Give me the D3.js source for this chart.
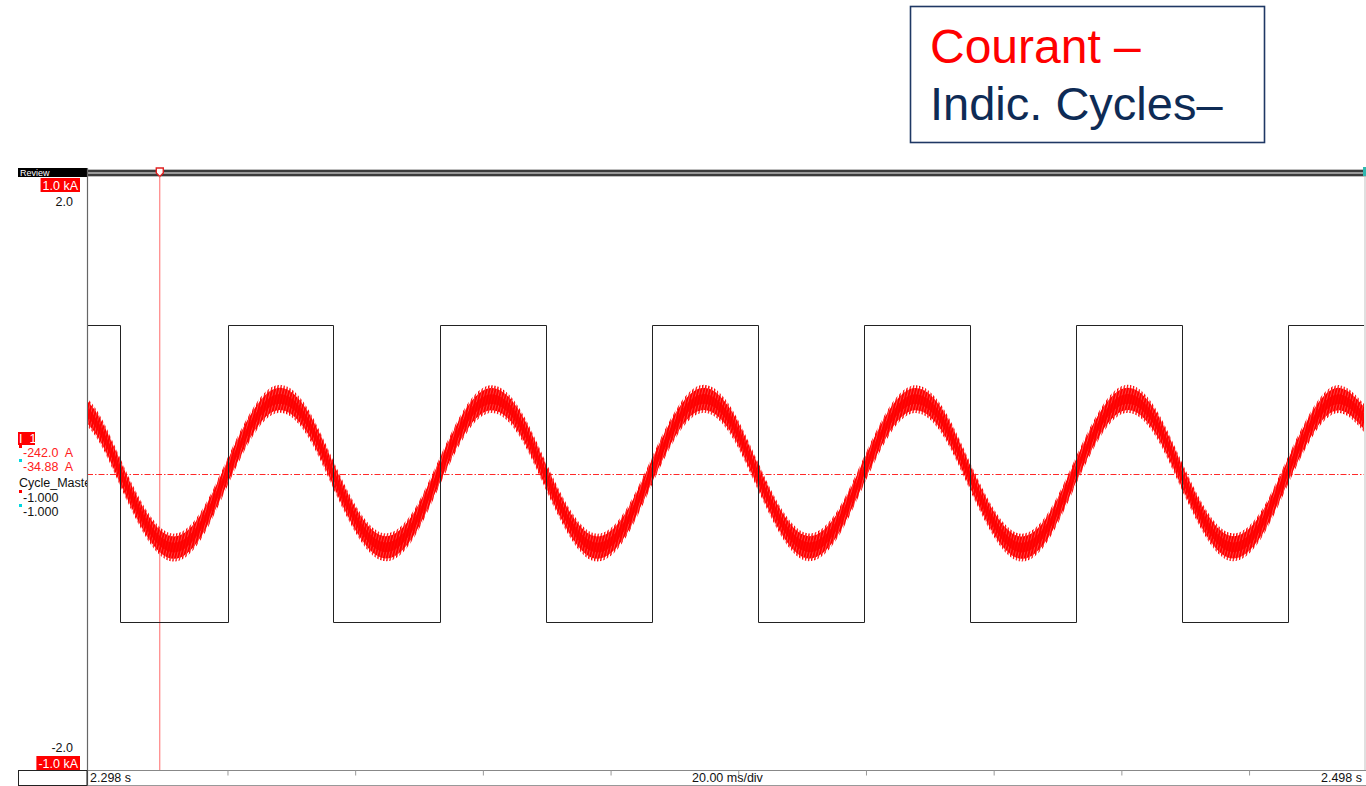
<!DOCTYPE html>
<html>
<head>
<meta charset="utf-8">
<script src="https://cdn.jsdelivr.net/npm/d3@7/dist/d3.min.js"></script>
<style>
  html, body { margin: 0; padding: 0; background: #fff; }
  svg { display: block; font-family: "Liberation Sans", Arial, sans-serif; }
  text { white-space: pre; }
</style>
</head>
<body>
<svg id="chart" width="1366" height="786"></svg>
<script>
// ---- Record window: 2.298 s .. 2.498 s, 20 ms/div ----
const startSec = 2.298;
const endSec = 2.498;
const spanMs = [0, 200];

// Current I_1 (A): fundamental sampled every ~1/8 period, time in ms from start
const curTimeMs = [-3.0, 1.2, 5.3, 9.5, 13.6, 17.8, 21.9, 26.1, 30.2, 34.4,
  38.5, 42.7, 46.8, 51.0, 55.1, 59.3, 63.4, 67.6, 71.7, 75.9,
  80.0, 84.2, 88.3, 92.5, 96.6, 100.8, 104.9, 109.1, 113.2, 117.4,
  121.5, 125.7, 129.8, 134.0, 138.1, 142.3, 146.4, 150.6, 154.7, 158.9,
  163.0, 167.2, 171.3, 175.5, 179.6, 183.8, 187.9, 192.1, 196.2, 200.4];
const curMidA = [250, 177, 0, -177, -250, -177, 0, 177, 252, 178,
  0, -176, -249, -177, 0, 178, 251, 177, 0, -177,
  -250, -176, 0, 177, 252, 178, 0, -177, -249, -176,
  0, 178, 251, 177, 0, -176, -250, -177, 0, 177,
  252, 178, 0, -177, -249, -176, 0, 177, 251, 177];
// switching ripple half-width around the fundamental (A)
const rippleA = 47;

// Cycle_Master square signal: transition times (ms) and level after each
const cycleTimeMs = [0, 5.2, 22.1, 38.5, 55.3, 71.9, 88.5, 105.1, 121.7, 138.3, 154.9, 171.5, 188.1, 200];
const cycleLevel = [1, -1, 1, -1, 1, -1, 1, -1, 1, -1, 1, -1, 1, 1];

// Axis ticks (s), scale end labels and cursor readouts
const tickSec = [2.32, 2.34, 2.36, 2.38, 2.40, 2.42, 2.44, 2.46, 2.48];
const cycleEndLabels = ["2.0", "-2.0"];
const currentEndLabels = ["1.0 kA", "-1.0 kA"];
const cursorMs = 11.4;
const readI1 = ["-242.0  A", "-34.88  A"];
const readCycle = ["-1.000", "-1.000"];

// ---- Layout ----
const plot = { left: 87, right: 1364, top: 177, bottom: 770 };
const svg = d3.select("#chart");

const x = d3.scaleLinear().domain(spanMs).range([plot.left, plot.right]);
const xSec = d3.scaleLinear().domain([startSec, endSec]).range([plot.left, plot.right]);
const yCur = d3.scaleLinear().domain([-1000, 1000]).range([plot.bottom, plot.top]);
const yCyc = d3.scaleLinear().domain([-2, 2]).range([plot.bottom, plot.top]);

const defs = svg.append("defs");
defs.append("clipPath").attr("id", "plotClip")
  .append("rect").attr("x", plot.left + 1).attr("y", plot.top)
  .attr("width", plot.right - plot.left - 1).attr("height", plot.bottom - plot.top);
defs.append("clipPath").attr("id", "labelClip")
  .append("rect").attr("x", 0).attr("y", 0).attr("width", plot.left).attr("height", 786);

// striped fills imitating the dense switching ripple
function stripes(id, w, redW, gapFill, skew) {
  const p = defs.append("pattern").attr("id", id)
    .attr("patternUnits", "userSpaceOnUse").attr("width", w).attr("height", 60)
    .attr("patternTransform", `skewX(${skew})`);
  if (gapFill) p.append("rect").attr("x", 0).attr("y", 0).attr("width", w).attr("height", 60).attr("fill", gapFill);
  p.append("rect").attr("x", 0).attr("y", 0).attr("width", redW).attr("height", 60).attr("fill", "#ff0000");
}
stripes("rippleCore", 2.9, 2.3, "#ff6e6e", -14);
stripes("rippleEdge", 3.1, 1.3, null, -8);

// ---- Frame ----
// top review bar
svg.append("rect").attr("x", plot.left).attr("y", 169).attr("width", 1366 - plot.left).attr("height", 8).attr("fill", "#bdbdbd");
svg.append("line").attr("x1", plot.left).attr("x2", 1366).attr("y1", 171).attr("y2", 171).attr("stroke", "#111").attr("stroke-width", 1.4);
svg.append("line").attr("x1", plot.left).attr("x2", 1366).attr("y1", 175).attr("y2", 175).attr("stroke", "#111").attr("stroke-width", 1.4);
svg.append("line").attr("x1", plot.left).attr("x2", 1366).attr("y1", 173).attr("y2", 173).attr("stroke", "#777").attr("stroke-width", 1);

svg.append("rect").attr("x", 18).attr("y", 168).attr("width", plot.left - 18).attr("height", 9).attr("fill", "#000");
svg.append("text").attr("x", 20).attr("y", 176).attr("font-size", 9).attr("fill", "#fff").text("Review");

// plot borders
svg.append("line").attr("x1", plot.left + 0.5).attr("x2", plot.left + 0.5).attr("y1", 168).attr("y2", 786)
  .attr("stroke", "#666").attr("stroke-width", 1.2);
svg.append("line").attr("x1", plot.right + 1).attr("x2", plot.right + 1).attr("y1", plot.top).attr("y2", plot.bottom)
  .attr("stroke", "#d6d6d6").attr("stroke-width", 1.5);

// bottom time axis row
svg.append("line").attr("x1", 18).attr("x2", 1366).attr("y1", plot.bottom + 0.5).attr("y2", plot.bottom + 0.5).attr("stroke", "#888");
svg.append("line").attr("x1", 18).attr("x2", 1366).attr("y1", 785.5).attr("y2", 785.5).attr("stroke", "#999");
svg.append("rect").attr("x", 18.5).attr("y", plot.bottom + 0.5).attr("width", plot.left - 18.5).attr("height", 15)
  .attr("fill", "none").attr("stroke", "#222");

const xAxis = d3.axisBottom(xSec).tickValues(tickSec).tickSize(5).tickFormat("");
const ax = svg.append("g").attr("transform", `translate(0,${plot.bottom + 0.5})`).call(xAxis);
ax.select(".domain").remove();
ax.selectAll(".tick line").attr("stroke", "#999");

svg.append("text").attr("x", plot.left + 3).attr("y", 782).attr("font-size", 12.5).attr("fill", "#111")
  .text(`${startSec.toFixed(3)} s`);
svg.append("text").attr("x", 692).attr("y", 782).attr("font-size", 12.5).attr("fill", "#111").text("20.00 ms/div");
svg.append("text").attr("x", 1362).attr("y", 782).attr("font-size", 12.5).attr("fill", "#111")
  .attr("text-anchor", "end").text(`${endSec.toFixed(3)} s`);

// ---- Left scale labels ----
function redBox(xr, y, label) {
  const g = svg.append("g");
  const t = g.append("text").attr("x", xr - 2).attr("y", y + 11.5).attr("font-size", 12.5)
    .attr("fill", "#fff").attr("text-anchor", "end").text(label);
  const w = t.node().getComputedTextLength();
  g.insert("rect", "text").attr("x", xr - w - 4).attr("y", y).attr("width", w + 4).attr("height", 14).attr("fill", "#ff0000");
}
redBox(80, 178, currentEndLabels[0]);
redBox(80, 756, currentEndLabels[1]);
svg.append("text").attr("x", 73).attr("y", yCyc(2) + 29).attr("font-size", 12.5).attr("fill", "#111")
  .attr("text-anchor", "end").text(cycleEndLabels[0]);
svg.append("text").attr("x", 73).attr("y", yCyc(-2) - 18).attr("font-size", 12.5).attr("fill", "#111")
  .attr("text-anchor", "end").text(cycleEndLabels[1]);

// cursor readouts
const lab = svg.append("g").attr("clip-path", "url(#labelClip)");
lab.append("rect").attr("x", 18).attr("y", 432).attr("width", 17).attr("height", 13).attr("fill", "#ff0000");
lab.append("text").attr("x", 19).attr("y", 443).attr("font-size", 12.5).attr("fill", "#fff").text("I_1");
const marks = [
  { y: 452, sq: "#ff0000", txt: readI1[0], col: "#ff2020" },
  { y: 466, sq: "#00d8e0", txt: readI1[1], col: "#ff2020" },
  { y: 497, sq: "#ff0000", txt: readCycle[0], col: "#111" },
  { y: 511, sq: "#00d8e0", txt: readCycle[1], col: "#111" }
];
marks.forEach(m => {
  lab.append("rect").attr("x", 19).attr("y", m.y - 7).attr("width", 3).attr("height", 3).attr("fill", m.sq);
  lab.append("text").attr("x", 23).attr("y", m.y + 4.5).attr("font-size", 12.5).attr("fill", m.col).text(m.txt);
});
lab.append("text").attr("x", 19).attr("y", 486.5).attr("font-size", 12.5).attr("fill", "#111").text("Cycle_Master");

// ---- Traces ----
const traces = svg.append("g").attr("clip-path", "url(#plotClip)");

// cursor line
traces.append("line").attr("x1", x(cursorMs)).attr("x2", x(cursorMs)).attr("y1", plot.top).attr("y2", plot.bottom)
  .attr("stroke", "#ff6a6a").attr("stroke-width", 1);

// zero reference of I_1 (dash-dot)
const y0 = Math.round(yCur(0)) + 0.5;
traces.append("line").attr("x1", plot.left).attr("x2", plot.right).attr("y1", y0).attr("y2", y0)
  .attr("stroke", "#ff2a2a").attr("stroke-width", 1.1).attr("stroke-dasharray", "6,2,1.5,2");

const cur = curTimeMs.map((t, i) => ({ t, v: curMidA[i] }));
const band = k => d3.area().curve(d3.curveNatural).x(d => x(d.t))
  .y0(d => yCur(d.v - rippleA * k)).y1(d => yCur(d.v + rippleA * k));

// ripple: sparse spiky fringe, striated body, solid centre
traces.append("path").datum(cur).attr("d", band(1.0)).attr("fill", "url(#rippleEdge)");
traces.append("path").datum(cur).attr("d", band(0.8)).attr("fill", "url(#rippleCore)");
traces.append("path").datum(cur).attr("d", band(0.35)).attr("fill", "#ff0000").attr("opacity", 0.85);

// Cycle_Master square wave
const cyc = cycleTimeMs.map((t, i) => ({ t, v: cycleLevel[i] }));
traces.append("path").datum(cyc)
  .attr("d", d3.line().curve(d3.curveStepAfter).x(d => Math.round(x(d.t)) + 0.5).y(d => Math.round(yCyc(d.v)) + 0.5))
  .attr("fill", "none").attr("stroke", "#222").attr("stroke-width", 1);

// cursor tags on the review bar
const cx = x(cursorMs);
svg.append("path").attr("d", `M${cx - 3.5},168 h7 v5 l-3.5,3.5 l-3.5,-3.5 z`)
  .attr("fill", "#fff").attr("stroke", "#e02020").attr("stroke-width", 1.4);
svg.append("line").attr("x1", cx).attr("x2", cx).attr("y1", 176).attr("y2", plot.top).attr("stroke", "#ff6a6a");
svg.append("rect").attr("x", plot.right - 1).attr("y", 167).attr("width", 3).attr("height", 9).attr("fill", "#2fb8b0");

// ---- Title box ----
svg.append("rect").attr("x", 910.5).attr("y", 6.5).attr("width", 354).attr("height", 136)
  .attr("fill", "#fff").attr("stroke", "#1f3864").attr("stroke-width", 1.6);
svg.append("text").attr("x", 930).attr("y", 63).attr("font-size", 48).attr("fill", "#ff0000")
  .text("Courant –");
svg.append("text").attr("x", 930).attr("y", 120).attr("font-size", 47).attr("fill", "#0e2b55")
  .text("Indic. Cycles–");
</script>
</body>
</html>
